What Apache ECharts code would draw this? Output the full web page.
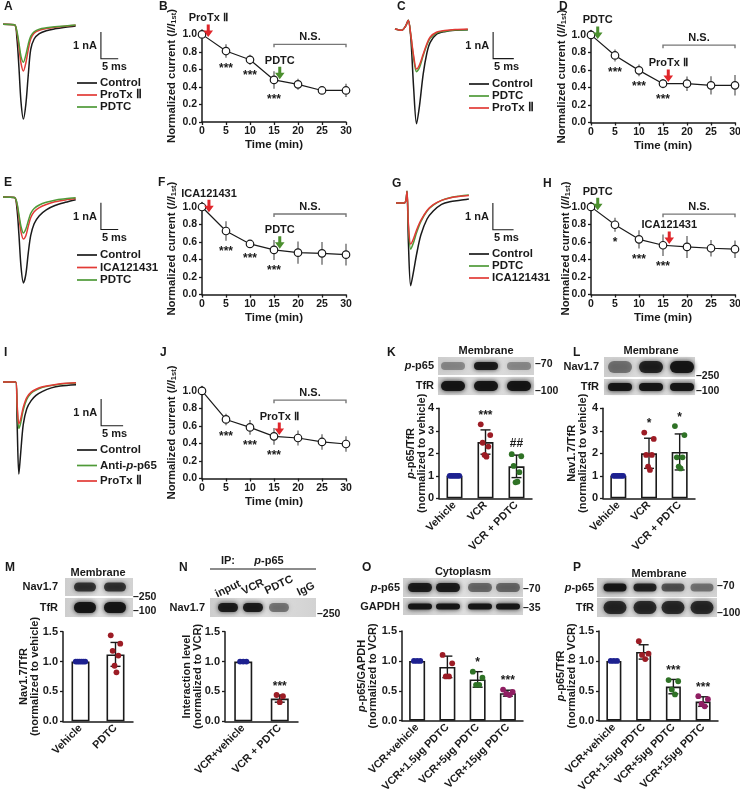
<!DOCTYPE html>
<html>
<head>
<meta charset="utf-8">
<title>PDTC / Nav1.7 figure</title>
<script src="https://cdn.jsdelivr.net/npm/echarts@6.0.0/dist/echarts.min.js"></script>
<style>
  html, body { margin: 0; padding: 0; background: #fff; }
  #fig { width: 740px; height: 791px; }
</style>
</head>
<body>
<div id="fig"></div>
<script>
// ---------- time course panels (normalized current, mean / sd) ----------
const timeMin = [0, 5, 10, 15, 20, 25, 30];

const meanB = [1.0, 0.81, 0.71, 0.48, 0.43, 0.36, 0.36];
const sdB = [0, 0.076, 0.057, 0.1, 0.063, 0.034, 0.076];
const starsB = ['', '***', '***', '***', '', '', ''];

const meanD = [1.0, 0.765, 0.595, 0.443, 0.443, 0.424, 0.424];
const sdD = [0, 0.068, 0.066, 0.053, 0.083, 0.104, 0.117];
const starsD = ['', '***', '***', '***', '', '', ''];

const meanF = [1.0, 0.726, 0.578, 0.51, 0.479, 0.471, 0.456];
const sdF = [0, 0.112, 0.044, 0.114, 0.127, 0.13, 0.125];
const starsF = ['', '***', '***', '***', '', '', ''];

const meanH = [1.0, 0.796, 0.63, 0.562, 0.543, 0.528, 0.517];
const sdH = [0, 0.079, 0.104, 0.123, 0.126, 0.094, 0.1];
const starsH = ['', '*', '***', '***', '', '', ''];

const meanJ = [1.0, 0.674, 0.583, 0.481, 0.462, 0.417, 0.394];
const sdJ = [0, 0.066, 0.085, 0.095, 0.085, 0.089, 0.089];
const starsJ = ['', '***', '***', '***', '', '', ''];

// ---------- current traces (ms, nA) ----------
const timeA = [0, 3.3, 4.0, 4.6, 5.2, 5.9, 6.6, 7.3, 8.0, 9.0, 10.5, 12.5, 15, 18, 21];
const controlA = [0, -0.02, -0.5, -1.6, -2.9, -3.55, -3.0, -1.9, -0.95, -0.55, -0.35, -0.24, -0.17, -0.11, -0.06];
const protxA = [0, -0.02, -0.3, -0.85, -1.45, -1.75, -1.45, -0.95, -0.55, -0.33, -0.22, -0.16, -0.11, -0.07, -0.04];
const pdtcA = [0, -0.02, -0.25, -0.7, -1.2, -1.42, -1.15, -0.75, -0.45, -0.28, -0.18, -0.13, -0.09, -0.06, -0.03];

const timeC = [0, 1.6, 2.6, 3.2, 3.8, 4.5, 5.2, 5.9, 6.8, 7.7, 8.5, 10, 12, 14.5, 17.6];
const controlC = [0, -0.05, 0.12, 0.33, -0.3, -2.2, -3.55, -2.9, -1.7, -0.9, -0.5, -0.2, -0.1, -0.05, -0.03];
const pdtcC = [0, -0.05, 0.12, 0.33, -0.2, -1.1, -1.6, -1.45, -1.0, -0.6, -0.35, -0.15, -0.08, -0.04, -0.03];
const protxC = [0, -0.05, 0.12, 0.33, -0.2, -1.0, -1.5, -1.35, -0.95, -0.55, -0.3, -0.12, -0.06, -0.02, 0];

const timeE = [0, 3.3, 4.0, 4.6, 5.2, 5.9, 6.6, 7.3, 8.0, 9.0, 10.5, 12.5, 15, 18, 21];
const controlE = [0, -0.02, -0.4, -1.4, -2.6, -3.22, -2.9, -2.1, -1.45, -1.0, -0.7, -0.48, -0.32, -0.2, -0.1];
const icaE = [0, -0.02, -0.25, -0.75, -1.3, -1.57, -1.45, -1.1, -0.78, -0.55, -0.4, -0.28, -0.18, -0.11, -0.06];
const pdtcE = [0, -0.02, -0.2, -0.65, -1.1, -1.35, -1.2, -0.9, -0.62, -0.43, -0.3, -0.2, -0.12, -0.07, -0.03];

const timeG = [0, 2.0, 2.4, 2.66, 3.0, 3.55, 4.2, 5.0, 6.0, 7.5, 9.0, 11, 13, 15.5, 17.6];
const controlG = [0, 0, 0.1, 0.44, -1.5, -3.1, -2.6, -1.9, -1.2, -0.6, -0.3, -0.05, 0.05, 0.1, 0.15];
const pdtcG = [0, 0, 0.1, 0.44, -0.9, -1.73, -1.5, -1.1, -0.7, -0.3, -0.08, 0.1, 0.2, 0.26, 0.3];
const icaG = [0, 0, 0.1, 0.44, -0.8, -1.54, -1.35, -1.0, -0.65, -0.28, -0.06, 0.1, 0.19, 0.25, 0.28];

const timeI = [0, 2.9, 3.2, 3.6, 4.0, 4.6, 5.4, 6.4, 7.5, 9, 11, 13, 16.6];
const controlI = [0, 0, -1.5, -3.45, -2.7, -1.6, -1.0, -0.7, -0.5, -0.35, -0.22, -0.15, -0.1];
const antiI = [0, 0, -0.9, -1.74, -1.55, -1.05, -0.65, -0.42, -0.3, -0.2, -0.13, -0.08, -0.04];
const protxI = [0, 0, -0.8, -1.56, -1.4, -0.95, -0.58, -0.38, -0.27, -0.18, -0.12, -0.07, -0.03];

// ---------- bar panels ----------
const catsK = ['Vehicle', 'VCR', 'VCR + PDTC'];
const meanK = [1, 2.5, 1.42];
const sdK = [0, 0.54, 0.5];
const dotsK = [[1, 1, 1, 1, 1, 1], [3.29, 2.81, 2.47, 2.3, 1.93, 1.85], [1.96, 1.87, 1.44, 1.16, 0.71, 0.74]];
const sigK = ['', '***', '##'];

const catsL = ['Vehicle', 'VCR', 'VCR + PDTC'];
const meanL = [1, 2.0, 2.06];
const sdL = [0, 0.67, 0.8];
const dotsL = [[1, 1, 1, 1, 1, 1], [2.92, 2.64, 1.93, 1.93, 1.41, 1.26], [3.21, 2.81, 1.82, 1.82, 1.41, 1.33]];
const sigL = ['', '*', '*'];

const catsM = ['Vehicle', 'PDTC'];
const meanM = [1, 1.12];
const sdM = [0, 0.2];
const dotsM = [[1, 1, 1, 1, 1, 1], [1.44, 1.3, 1.18, 1.1, 0.93, 0.82]];
const sigM = ['', ''];

const catsN = ['VCR+vehicle', 'VCR + PDTC'];
const meanN = [1, 0.38];
const sdN = [0, 0.06];
const dotsN = [[1, 1, 1], [0.44, 0.42, 0.32]];
const sigN = ['', '***'];

const catsO = ['VCR+vehicle', 'VCR+1.5µg PDTC', 'VCR+5µg PDTC', 'VCR+15µg PDTC'];
const meanO = [1, 0.9, 0.69, 0.46];
const sdO = [0, 0.18, 0.13, 0.05];
const dotsO = [[1, 1, 1], [1.1, 0.96, 0.74, 0.74], [0.82, 0.72, 0.6, 0.6], [0.52, 0.48, 0.45, 0.43]];
const sigO = ['', '', '*', '***'];

const catsP = ['VCR+vehicle', 'VCR+1.5µg PDTC', 'VCR+5µg PDTC', 'VCR+15µg PDTC'];
const meanP = [1, 1.15, 0.57, 0.32];
const sdP = [0, 0.12, 0.12, 0.08];
const dotsP = [[1, 1, 1], [1.33, 1.12, 1.1, 1.03], [0.68, 0.66, 0.52, 0.44], [0.41, 0.36, 0.28, 0.24]];
const sigP = ['', '', '***', '***'];

// ---------- styling ----------
const FF = "'Liberation Sans', Arial, Helvetica, sans-serif";
const INK = '#1a1a1a';
const RED = '#e23a36';
const GREEN = '#4f9a38';
const ARROW_RED = '#e0262b';
const ARROW_GREEN = '#4b8f2e';
const DOT_BLUE = '#1d2190', DOT_RED = '#9c1c25', DOT_GREEN = '#2f7226', DOT_PURPLE = '#8f1e62';
const NA = 26.7; // px per nA in the traces

const grid = [], xAxis = [], yAxis = [], series = [], legend = [], graphic = [];

function lbl(size, extra) {
  return Object.assign({ fontFamily: FF, fontWeight: 'bold', fontSize: size, color: INK }, extra || {});
}
const axLine = { show: true, lineStyle: { color: INK, width: 1.5 } };
const axTick = { show: true, length: 3, lineStyle: { color: INK, width: 1.3 } };

function addAxes(g, xa, ya) {
  const i = grid.length;
  grid.push(Object.assign({ containLabel: false, outerBoundsMode: 'none' }, g));
  xAxis.push(Object.assign({ gridIndex: i }, xa));
  yAxis.push(Object.assign({ gridIndex: i }, ya));
  return i;
}

function txt(x, y, s, o) {
  graphic.push({
    type: 'text', x: x, y: y, silent: true,
    style: Object.assign({ text: s, fontFamily: FF, fontWeight: 'bold', fontSize: 11, fill: INK, align: 'left', verticalAlign: 'middle' }, o || {})
  });
}
const RICH_P = { i: { fontFamily: FF, fontWeight: 'bold', fontStyle: 'italic', fontSize: 11, fill: INK, color: INK } };

function interp(xs, ys, t) {
  for (let k = 1; k < xs.length; k++) {
    if (t <= xs[k]) {
      const f = (t - xs[k - 1]) / (xs[k] - xs[k - 1]);
      return ys[k - 1] + f * (ys[k] - ys[k - 1]);
    }
  }
  return ys[ys.length - 1];
}

// ---------- time course panel ----------
function timeCourse(c) {
  const i = addAxes(
    { left: c.left, top: c.top, width: 144, height: 92 },
    {
      type: 'value', min: 0, max: 30, interval: 5,
      name: 'Time (min)', nameLocation: 'middle', nameGap: 17, nameTextStyle: lbl(11.5),
      axisLine: axLine, axisTick: axTick, splitLine: { show: false },
      axisLabel: lbl(10.5, { margin: 4 })
    },
    {
      type: 'value', min: 0, max: 1.05, interval: 0.2,
      name: '{n|Normalized current (}{i|I/I}{s|1st}{n|)}',
      nameLocation: 'middle', nameGap: c.gap, nameMoveOverlap: false,
      nameTextStyle: { rich: { n: lbl(11.3), i: lbl(11.3, { fontStyle: 'italic' }), s: lbl(7.5, { padding: [4, 0, 0, 0] }) } },
      axisLine: axLine, axisTick: axTick, splitLine: { show: false },
      axisLabel: lbl(10.5, {
        margin: 5, showMaxLabel: false,
        formatter: v => (Math.abs(v * 5 - Math.round(v * 5)) < 1e-6 ? v.toFixed(1) : '')
      })
    });
  const pts = timeMin.map((t, k) => [t, c.mean[k], c.sd[k], k]);

  // error bars (no caps, grey)
  series.push({
    type: 'custom', xAxisIndex: i, yAxisIndex: i, z: 2, silent: true, data: pts,
    renderItem: (p, api) => {
      const a = api.coord([api.value(0), api.value(1) + api.value(2)]);
      const b = api.coord([api.value(0), api.value(1) - api.value(2)]);
      return { type: 'line', shape: { x1: a[0], y1: a[1], x2: b[0], y2: b[1] }, style: { stroke: '#7a7a7a', lineWidth: 1.5 } };
    }
  });
  series.push({
    type: 'line', xAxisIndex: i, yAxisIndex: i, z: 3, silent: true,
    data: pts.map(q => [q[0], q[1]]),
    symbol: 'circle', symbolSize: 7.5, showAllSymbol: true,
    lineStyle: { color: INK, width: 1.2 },
    itemStyle: { color: '#fff', borderColor: INK, borderWidth: 1.2 }
  });
  // significance stars under the points
  series.push({
    type: 'custom', xAxisIndex: i, yAxisIndex: i, z: 4, silent: true, data: pts,
    renderItem: (p, api) => {
      const s = c.stars[api.value(3)];
      if (!s) return null;
      const q = api.coord([api.value(0), api.value(1) - api.value(2)]);
      return { type: 'text', x: q[0], y: q[1] + 11, style: { text: s, fontFamily: FF, fontWeight: 'bold', fontSize: 12, fill: INK, align: 'center', verticalAlign: 'middle' } };
    }
  });
  // drug application arrows
  series.push({
    type: 'custom', xAxisIndex: i, yAxisIndex: i, z: 5, silent: true,
    data: c.arrows.map((a, k) => [a.t, interp(timeMin, c.mean, a.t) + 0.02, k]),
    renderItem: (p, api) => {
      const a = c.arrows[api.value(2)];
      const q = api.coord([api.value(0), api.value(1)]);
      const x = q[0], y = q[1];
      return {
        type: 'group', children: [
          { type: 'polygon', shape: { points: [[x, y], [x - 4.8, y - 6.5], [x - 1.5, y - 6.5], [x - 1.5, y - 12.5], [x + 1.5, y - 12.5], [x + 1.5, y - 6.5], [x + 4.8, y - 6.5]] }, style: { fill: a.color } },
          { type: 'text', x: x, y: y - 18.5, style: { text: a.label, fontFamily: FF, fontWeight: 'bold', fontSize: 11, fill: INK, align: 'center', verticalAlign: 'middle' } }
        ]
      };
    }
  });
  // N.S. bracket
  series.push({
    type: 'custom', xAxisIndex: i, yAxisIndex: i, z: 5, silent: true,
    data: [[15, 30, c.ns]],
    renderItem: (p, api) => {
      const a = api.coord([api.value(0), api.value(2)]);
      const b = api.coord([api.value(1), api.value(2)]);
      return {
        type: 'group', children: [
          { type: 'polyline', shape: { points: [[a[0], a[1] + 3], [a[0], a[1]], [b[0], b[1]], [b[0], b[1] + 3]] }, style: { stroke: '#777', lineWidth: 1.4, fill: null } },
          { type: 'text', x: (a[0] + b[0]) / 2, y: a[1] - 7.5, style: { text: 'N.S.', fontFamily: FF, fontWeight: 'bold', fontSize: 11, fill: INK, align: 'center', verticalAlign: 'middle' } }
        ]
      };
    }
  });
}

// ---------- trace panel ----------
function tracePanel(c) {
  const W = 125, vTop = 0.6, vBot = -3.8;
  const i = addAxes(
    { left: c.left, top: c.base - vTop * NA, width: W, height: (vTop - vBot) * NA },
    { type: 'value', min: 0, max: W / c.pxMs, show: false, splitLine: { show: false } },
    { type: 'value', min: vBot, max: vTop, show: false, splitLine: { show: false } });
  c.curves.forEach((cur, k) => {
    series.push({
      type: 'line', name: c.names[k], xAxisIndex: i, yAxisIndex: i, silent: true,
      data: c.time.map((t, j) => [t, cur[j]]),
      symbol: 'none', smooth: 0.3,
      lineStyle: { color: c.colors[k], width: 1.5 }, itemStyle: { color: c.colors[k] }
    });
  });
  // scale bar: 1 nA / 5 ms
  series.push({
    type: 'custom', xAxisIndex: i, yAxisIndex: i, silent: true, data: [c.bar],
    renderItem: (p, api) => {
      const t0 = api.value(0), v0 = api.value(1);
      const p0 = api.coord([t0, v0]), p1 = api.coord([t0, v0 - 1]), p2 = api.coord([t0 + 5, v0 - 1]);
      return {
        type: 'group', children: [
          { type: 'polyline', shape: { points: [p0, p1, p2] }, style: { stroke: INK, lineWidth: 1.1, fill: null } },
          { type: 'text', x: p0[0] - 4, y: (p0[1] + p1[1]) / 2 + 1, style: { text: '1 nA', fontFamily: FF, fontWeight: 'bold', fontSize: 11, fill: INK, align: 'right', verticalAlign: 'middle' } },
          { type: 'text', x: p1[0] + 1, y: p1[1] + 8, style: { text: '5 ms', fontFamily: FF, fontWeight: 'bold', fontSize: 11, fill: INK, align: 'left', verticalAlign: 'middle' } }
        ]
      };
    }
  });
  legend.push({
    left: c.lg[0], top: c.lg[1], orient: 'vertical', padding: 0,
    icon: 'rect', itemWidth: 20, itemHeight: 1.7, itemGap: c.lg[2], selectedMode: false,
    data: c.names,
    formatter: n => n.replace('-p-', '-{i|p}-'),
    textStyle: lbl(11.5, { lineHeight: 8.3, padding: [0, 0, 0, -2], rich: { i: lbl(11.5, { fontStyle: 'italic', lineHeight: 8.3 }) } })
  });
}

// ---------- bar panel ----------
function spread(j, n) {
  const step = n <= 4 ? 3.2 : 1.9;
  const pos = j % 2 === 0 ? j / 2 : n - 1 - (j - 1) / 2;
  return (pos - (n - 1) / 2) * step;
}

function barPanel(c) {
  const i = addAxes(
    { left: c.left, top: c.top, width: c.width, height: c.height },
    {
      type: 'category', data: c.cats, axisLine: axLine, axisTick: { show: false }, splitLine: { show: false },
      axisLabel: lbl(10.8, { rotate: 45, interval: 0, margin: 5 })
    },
    {
      type: 'value', min: 0, max: c.max, interval: c.step,
      name: c.yName, nameLocation: 'middle', nameGap: c.gap, nameMoveOverlap: false,
      nameTextStyle: lbl(11, { lineHeight: 11.5, rich: { n: lbl(11, { lineHeight: 11.5 }), i: lbl(11, { fontStyle: 'italic', lineHeight: 11.5 }) } }),
      axisLine: axLine, axisTick: axTick, splitLine: { show: false },
      axisLabel: lbl(11, { margin: 5, formatter: v => (c.step < 1 ? v.toFixed(1) : String(v)) })
    });
  series.push({
    type: 'bar', xAxisIndex: i, yAxisIndex: i, z: 2, silent: true, data: c.mean, barWidth: c.barW,
    itemStyle: { color: '#fff', borderColor: INK, borderWidth: 1.6 }
  });
  series.push({
    type: 'custom', xAxisIndex: i, yAxisIndex: i, z: 3, silent: true,
    data: c.mean.map((m, k) => [k, m, c.sd[k]]),
    renderItem: (p, api) => {
      const s = api.value(2);
      if (!s) return null;
      const a = api.coord([api.value(0), api.value(1) + s]);
      const b = api.coord([api.value(0), api.value(1) - s]);
      const w = 5, st = { stroke: INK, lineWidth: 1.4 };
      return {
        type: 'group', children: [
          { type: 'line', shape: { x1: a[0], y1: a[1], x2: b[0], y2: b[1] }, style: st },
          { type: 'line', shape: { x1: a[0] - w, y1: a[1], x2: a[0] + w, y2: a[1] }, style: st },
          { type: 'line', shape: { x1: b[0] - w, y1: b[1], x2: b[0] + w, y2: b[1] }, style: st }
        ]
      };
    }
  });
  c.dots.forEach((g, k) => {
    series.push({
      type: 'scatter', xAxisIndex: i, yAxisIndex: i, z: 4, silent: true, symbolSize: 5.8,
      itemStyle: { color: c.dotColors[k], opacity: 1 },
      data: g.map((v, j) => ({ value: [k, v], symbolOffset: [spread(j, g.length), 0] }))
    });
  });
  series.push({
    type: 'custom', xAxisIndex: i, yAxisIndex: i, z: 5, silent: true,
    data: c.sig.map((s, k) => [k, Math.max(c.mean[k] + c.sd[k], Math.max.apply(null, c.dots[k])), k]),
    renderItem: (p, api) => {
      const s = c.sig[api.value(2)];
      if (!s) return null;
      const q = api.coord([api.value(0), api.value(1)]);
      const dy = s.indexOf('*') >= 0 ? 2.5 : 0.5;
      return { type: 'text', x: q[0], y: q[1] - 11 + dy, style: { text: s, fontFamily: FF, fontWeight: 'bold', fontSize: 12, fill: INK, align: 'center', verticalAlign: 'middle' } };
    }
  });
}

// ---------- western blot pictures ----------
function blot(b) {
  if (b.title) txt(b.title[1], b.title[2], b.title[0], { align: 'center' });
  b.rows.forEach(r => {
    graphic.push({
      type: 'rect', silent: true, shape: { x: b.x, y: r.y, width: b.w, height: r.h },
      style: { fill: { type: 'linear', x: 0, y: 0, x2: 1, y2: 0, colorStops: [{ offset: 0, color: '#cdcdcd' }, { offset: 0.5, color: '#dedede' }, { offset: 1, color: '#d2d2d2' }] } }
    });
    b.lanes.forEach((lx, k) => {
      const a = r.bands[k];
      if (a <= 0.02) return;
      graphic.push({
        type: 'rect', silent: true,
        shape: { x: lx - b.bw / 2 + 1, y: r.y + r.h / 2 - r.bh / 2 + 0.5, width: b.bw - 2, height: r.bh - 1, r: r.bh / 2 },
        style: { fill: 'rgba(18,18,18,' + a + ')', shadowBlur: 5, shadowColor: 'rgba(18,18,18,' + a + ')' }
      });
    });
    txt(b.labelX, r.y + r.h / 2, r.name, { align: 'right', rich: RICH_P });
    if (r.mw) txt(b.mwX, r.mwY, r.mw, { fontSize: 10.5 });
  });
}

// ================= build panels =================
tracePanel({ left: 3, base: 24.3, pxMs: 3.46, time: timeA, curves: [controlA, protxA, pdtcA],
  names: ['Control', 'ProTx Ⅱ', 'PDTC'], colors: [INK, RED, GREEN], bar: [28.3, -0.29], lg: [77, 77, 0] });
tracePanel({ left: 395, base: 29, pxMs: 4.14, time: timeC, curves: [controlC, pdtcC, protxC],
  names: ['Control', 'PDTC', 'ProTx Ⅱ'], colors: [INK, GREEN, RED], bar: [23.7, -0.11], lg: [469, 78, 0] });
tracePanel({ left: 3, base: 197, pxMs: 3.46, time: timeE, curves: [controlE, icaE, pdtcE],
  names: ['Control', 'ICA121431', 'PDTC'], colors: [INK, RED, GREEN], bar: [28.3, -0.22], lg: [77, 249, 0.5] });
tracePanel({ left: 396, base: 203, pxMs: 4.14, time: timeG, curves: [controlG, pdtcG, icaG],
  names: ['Control', 'PDTC', 'ICA121431'], colors: [INK, GREEN, RED], bar: [23.4, 0], lg: [469, 248, 0] });
tracePanel({ left: 3, base: 382, pxMs: 4.4, time: timeI, curves: [controlI, antiI, protxI],
  names: ['Control', 'Anti-p-p65', 'ProTx Ⅱ'], colors: [INK, GREEN, RED], bar: [22.3, -0.64], lg: [77, 444, 3.5] });

timeCourse({ left: 202, top: 30, gap: 24, mean: meanB, sd: sdB, stars: starsB, ns: 0.886,
  arrows: [{ t: 1.3, label: 'ProTx Ⅱ', color: ARROW_RED }, { t: 16.2, label: 'PDTC', color: ARROW_GREEN }] });
timeCourse({ left: 591, top: 30.5, gap: 23, mean: meanD, sd: sdD, stars: starsD, ns: 0.883,
  arrows: [{ t: 1.4, label: 'PDTC', color: ARROW_GREEN }, { t: 16.1, label: 'ProTx Ⅱ', color: ARROW_RED }] });
timeCourse({ left: 202, top: 202.6, gap: 24, mean: meanF, sd: sdF, stars: starsF, ns: 0.92,
  arrows: [{ t: 1.45, label: 'ICA121431', color: ARROW_RED }, { t: 16.2, label: 'PDTC', color: ARROW_GREEN }] });
timeCourse({ left: 591, top: 202.5, gap: 19, mean: meanH, sd: sdH, stars: starsH, ns: 0.917,
  arrows: [{ t: 1.4, label: 'PDTC', color: ARROW_GREEN }, { t: 16.3, label: 'ICA121431', color: ARROW_RED }] });
timeCourse({ left: 202, top: 386.5, gap: 24, mean: meanJ, sd: sdJ, stars: starsJ, ns: 0.894,
  arrows: [{ t: 16.1, label: 'ProTx Ⅱ', color: ARROW_RED }] });

barPanel({ left: 439, top: 408.3, width: 93, height: 90, max: 4, step: 1, barW: 16, gap: 11,
  cats: catsK, mean: meanK, sd: sdK, dots: dotsK, sig: sigK, dotColors: [DOT_BLUE, DOT_RED, DOT_GREEN],
  yName: '{i|p}{n|-p65/TfR}\n{n|(normalized to vehicle)}' });
barPanel({ left: 603, top: 408.3, width: 92, height: 90, max: 4, step: 1, barW: 16, gap: 14,
  cats: catsL, mean: meanL, sd: sdL, dots: dotsL, sig: sigL, dotColors: [DOT_BLUE, DOT_RED, DOT_GREEN],
  yName: '{n|Nav1.7/TfR}\n{n|(normalized to vehicle)}' });
barPanel({ left: 63, top: 631.7, width: 70, height: 89.6, max: 1.5, step: 0.5, barW: 18, gap: 22,
  cats: catsM, mean: meanM, sd: sdM, dots: dotsM, sig: sigM, dotColors: [DOT_BLUE, DOT_RED],
  yName: '{n|Nav1.7/TfR}\n{n|(normalized to vehicle)}' });
barPanel({ left: 225, top: 631.7, width: 73, height: 89.6, max: 1.5, step: 0.5, barW: 18, gap: 21,
  cats: catsN, mean: meanN, sd: sdN, dots: dotsN, sig: sigN, dotColors: [DOT_BLUE, DOT_RED],
  yName: '{n|Interaction level}\n{n|(normalized to VCR)}' });
barPanel({ left: 402, top: 631, width: 121, height: 89.7, max: 1.5, step: 0.5, barW: 16, gap: 23,
  cats: catsO, mean: meanO, sd: sdO, dots: dotsO, sig: sigO, dotColors: [DOT_BLUE, DOT_RED, DOT_GREEN, DOT_PURPLE],
  yName: '{i|p}{n|-p65/GAPDH}\n{n|(normalized to VCR)}' });
barPanel({ left: 599, top: 631, width: 119, height: 89.7, max: 1.5, step: 0.5, barW: 15, gap: 21,
  cats: catsP, mean: meanP, sd: sdP, dots: dotsP, sig: sigP, dotColors: [DOT_BLUE, DOT_RED, DOT_GREEN, DOT_PURPLE],
  yName: '{i|p}{n|-p65/TfR}\n{n|(normalized to VCR)}' });

// blots
blot({ x: 438, w: 96, lanes: [453, 486, 519], bw: 26, labelX: 434, mwX: 535, title: ['Membrane', 486, 351],
  rows: [{ y: 357, h: 18, name: '{i|p}-p65', bands: [0.35, 0.9, 0.35], bh: 9, mw: '–70', mwY: 364 },
         { y: 377, h: 18, name: 'TfR', bands: [0.95, 0.95, 0.95], bh: 11, mw: '–100', mwY: 391 }] });
blot({ x: 604, w: 91, lanes: [620, 651, 682], bw: 26, labelX: 599, mwX: 696, title: ['Membrane', 651, 351],
  rows: [{ y: 357, h: 20, name: 'Nav1.7', bands: [0.45, 0.85, 0.95], bh: 13, mw: '–250', mwY: 376 },
         { y: 379, h: 16, name: 'TfR', bands: [0.95, 0.95, 0.95], bh: 9, mw: '–100', mwY: 391 }] });
blot({ x: 65, w: 68, lanes: [85, 115], bw: 24, labelX: 58, mwX: 133, title: ['Membrane', 98, 573],
  rows: [{ y: 578, h: 18, name: 'Nav1.7', bands: [0.75, 0.75], bh: 10, mw: '–250', mwY: 597 },
         { y: 598, h: 19, name: 'TfR', bands: [0.95, 0.95], bh: 12, mw: '–100', mwY: 611 }] });
blot({ x: 210, w: 106, lanes: [228, 253, 279, 305], bw: 22, labelX: 205, mwX: 317,
  rows: [{ y: 598, h: 19, name: 'Nav1.7', bands: [0.9, 0.9, 0.45, 0.02], bh: 10, mw: '–250', mwY: 614 }] });
blot({ x: 403, w: 120, lanes: [420, 448, 480, 508], bw: 26, labelX: 400, mwX: 523, title: ['Cytoplasm', 463, 572],
  rows: [{ y: 578, h: 19, name: '{i|p}-p65', bands: [0.9, 0.9, 0.5, 0.5], bh: 10, mw: '–70', mwY: 589 },
         { y: 598, h: 17, name: 'GAPDH', bands: [0.95, 0.95, 0.95, 0.95], bh: 7, mw: '–35', mwY: 608 }] });
blot({ x: 597, w: 120, lanes: [615, 645, 673, 702], bw: 25, labelX: 594, mwX: 717, title: ['Membrane', 659, 574],
  rows: [{ y: 578, h: 19, name: '{i|p}-p65', bands: [0.95, 0.85, 0.6, 0.45], bh: 9, mw: '–70', mwY: 586 },
         { y: 598, h: 19, name: 'TfR', bands: [0.8, 0.8, 0.8, 0.8], bh: 14, mw: '–100', mwY: 613 }] });

// IP header for N
txt(228, 561, 'IP:', { align: 'center' });
txt(269, 561, '{i|p}-p65', { align: 'center', rich: RICH_P });
graphic.push({ type: 'line', silent: true, shape: { x1: 210, y1: 569, x2: 316, y2: 569 }, style: { stroke: INK, lineWidth: 1.2 } });
[['input', 228, 589], ['VCR', 253, 587], ['PDTC', 279, 585], ['IgG', 306, 589]].forEach(l => {
  graphic.push({ type: 'text', x: l[1], y: l[2], rotation: 0.45, silent: true,
    style: { text: l[0], fontFamily: FF, fontWeight: 'bold', fontSize: 11, fill: INK, align: 'center', verticalAlign: 'middle' } });
});

// panel letters
[['A', 4, 7], ['B', 159, 7], ['C', 397, 7], ['D', 559, 7],
 ['E', 4, 183], ['F', 158, 183], ['G', 392, 184], ['H', 543, 184],
 ['I', 4, 353], ['J', 160, 353], ['K', 387, 353], ['L', 573, 353],
 ['M', 5, 568], ['N', 179, 568], ['O', 362, 568], ['P', 573, 568]].forEach(l => txt(l[1], l[2], l[0], { fontSize: 12 }));

const chart = echarts.init(document.getElementById('fig'), null, { renderer: 'canvas' });
chart.setOption({
  animation: false,
  backgroundColor: '#fff',
  textStyle: { fontFamily: FF },
  grid: grid, xAxis: xAxis, yAxis: yAxis, legend: legend, series: series,
  graphic: { elements: graphic }
});
</script>
</body>
</html>
